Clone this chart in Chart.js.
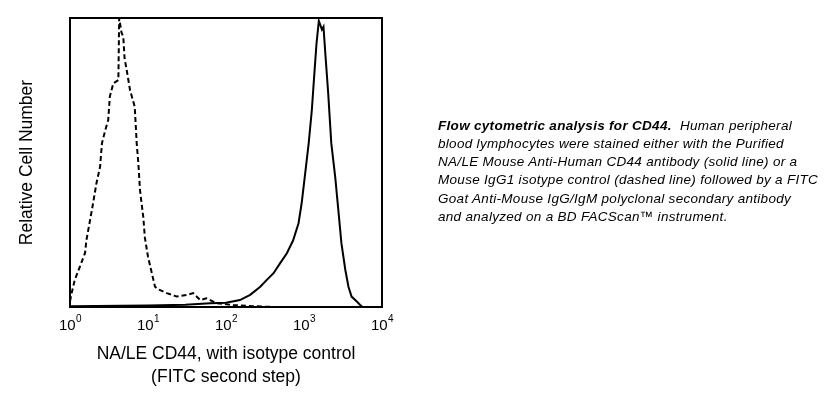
<!DOCTYPE html>
<html>
<head>
<meta charset="utf-8">
<script src="https://cdn.jsdelivr.net/npm/chart.js@4"></script>
<style>
  body { margin: 0; background: #fff; }
  #wrap { position: relative; width: 828px; height: 395px; }
  #caption {
    position: absolute; left: 438px; top: 116.5px; width: 390px;
    font-family: "Liberation Sans", Arial, sans-serif; font-style: italic;
    font-size: 13.5px; line-height: 18.3px; letter-spacing: 0.3px;
    color: #000; white-space: nowrap;
  }
</style>
</head>
<body>
<div id="wrap">
  <canvas id="myChart" width="828" height="395"></canvas>
  <div id="caption"><b>Flow cytometric analysis for CD44.</b>&nbsp; Human peripheral<br>blood lymphocytes were stained either with the Purified<br>NA/LE Mouse Anti-Human CD44 antibody (solid line) or a<br>Mouse IgG1 isotype control (dashed line) followed by a FITC<br>Goat Anti-Mouse IgG/IgM polyclonal secondary antibody<br>and analyzed on a BD FACScan™ instrument.</div>
</div>
<script>
// fluorescence intensity (FITC) and relative cell number
const isoX = [1.00,1.05,1.15,1.34,1.56,1.62,1.91,2.19,2.43,2.57,2.82,3.09,3.24,3.59,4.17,4.27,4.57,4.82,5.01,5.33,5.89,6.76,7.16,7.52,7.89,8.71,9.12,10.0,11.2,12.3,14.1,17.4,23.4,31.6,38.0,46.8,56.2,75.9,123,224,398,10000];
const isoY = [2,4.8,9.3,14,18.7,23,33.6,43,48.5,56.7,61,64.7,72.8,77.4,78.5,100,95,93.5,86,82,75,69.3,56.7,49.8,40.5,31,24,17.4,11.7,7,5.9,4.8,3.6,4.2,4.8,2.4,3,1.3,0.7,0.3,0,0];

const cd44X = [1,10,30,63,100,151,204,275,331,407,490,603,724,851,933,1023,1148,1259,1349,1445,1549,1698,1778,1862,2042,2239,2512,2754,3020,3388,3715,4074,4786,5248,5623,10000];
const cd44Y = [0.3,0.5,0.8,1.3,1.5,2.4,4.2,7,9.3,11.7,15,18.6,23,29,35.9,45,56.6,68,79.7,91,99,96,97,89,74,56.6,45,33.6,22,12.8,7,3.6,1.8,0.7,0,0];

const tickExps = [0,1,2,3,4];
const fontFam = "'Liberation Sans', Arial, sans-serif";

const toPts = (xs, ys) => xs.map((x, i) => ({x: x, y: ys[i]}));

// frame round the plot + 10^n tick labels
const decor = {
    id: 'decor',
    afterDraw(chart){
        const ctx = chart.ctx;
        const a = chart.chartArea;
        const xs = chart.scales.x;
        ctx.save();
        ctx.strokeStyle = '#000';
        ctx.lineWidth = 2;
        ctx.strokeRect(a.left, a.top, a.right - a.left, a.bottom - a.top);
        ctx.fillStyle = '#000';
        ctx.textBaseline = 'alphabetic';
        ctx.textAlign = 'left';
        tickExps.forEach(e => {
            const px = xs.getPixelForValue(Math.pow(10, e));
            ctx.font = '15px ' + fontFam;
            const w1 = ctx.measureText('10').width;
            ctx.font = '10px ' + fontFam;
            const w2 = ctx.measureText(String(e)).width;
            const x0 = px - (w1 + w2) / 2;
            ctx.font = '15px ' + fontFam;
            ctx.fillText('10', x0, 330);
            ctx.font = '10px ' + fontFam;
            ctx.fillText(String(e), x0 + w1 + 0.5, 322);
        });
        ctx.restore();
    }
};

const conf = {
    type: 'line',
    data: {
        datasets: [
            {
                label: 'CD44',
                data: toPts(cd44X, cd44Y),
                borderColor: '#000',
                borderWidth: 2,
                pointRadius: 0,
                tension: 0
            },
            {
                label: 'Isotype',
                data: toPts(isoX, isoY),
                borderColor: '#000',
                borderWidth: 2,
                borderDash: [5, 3],
                pointRadius: 0,
                tension: 0
            }
        ]
    },
    options: {
        responsive: false,
        animation: false,
        layout: { padding: { left: 0, top: 18, right: 446, bottom: 0 } },
        plugins: { legend: { display: false }, tooltip: { enabled: false } },
        scales: {
            x: {
                type: 'logarithmic',
                min: 1,
                max: 10000,
                grid: { display: false },
                border: { display: false },
                ticks: { display: false },
                title: {
                    display: true,
                    text: ['NA/LE CD44, with isotype control', '(FITC second step)'],
                    color: '#000',
                    font: { family: fontFam, size: 17.5, lineHeight: 1.286 },
                    padding: { top: 0, bottom: 6.75 }
                },
                afterFit: s => { s.height = 88; }
            },
            y: {
                min: 0,
                max: 100,
                grid: { display: false },
                border: { display: false },
                ticks: { display: false },
                title: {
                    display: true,
                    text: 'Relative Cell Number',
                    color: '#000',
                    font: { family: fontFam, size: 17.5 },
                    padding: { top: 16.5, bottom: 0 }
                },
                afterFit: s => { s.width = 70; }
            }
        }
    },
    plugins: [decor]
};

const myChart = new Chart(document.getElementById('myChart'), conf);
</script>
</body>
</html>
